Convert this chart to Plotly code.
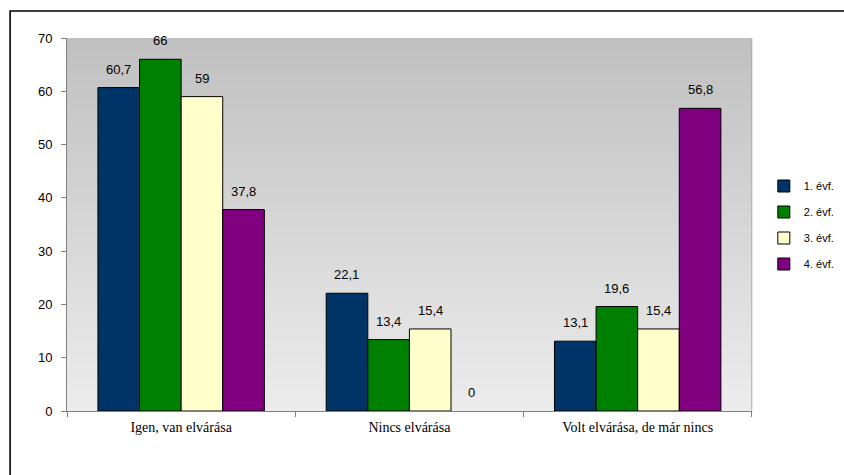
import plotly.graph_objects as go

# Survey responses by study year (percent)
categories = ["Igen, van elvárása", "Nincs elvárása", "Volt elvárása, de már nincs"]
series_names = ["1. évf.", "2. évf.", "3. évf.", "4. évf."]
values = [
    [60.7, 22.1, 13.1],
    [66.0, 13.4, 19.6],
    [59.0, 15.4, 15.4],
    [37.8, 0.0, 56.8],
]
colors = ["#003366", "#008000", "#FFFFCC", "#800080"]

W, H = 844, 475
ML, MR, MT, MB = 67, 91, 38, 64

fig = go.Figure()
for name, vals, col in zip(series_names, values, colors):
    fig.add_trace(go.Bar(
        name=name, x=categories, y=vals,
        marker=dict(color=col,
                    line=dict(color="#000000",
                              width=[1 if v > 0 else 0 for v in vals])),
        legendgroup=name,
    ))


def fmt(v):
    s = ("%.1f" % v).rstrip("0").rstrip(".")
    return s.replace(".", ",")


pw, ph = W - ML - MR, H - MT - MB
bar_px = pw / 3 * (1 - 0.271) / 4

# value labels above each bar
n = len(series_names)
for i, vals in enumerate(values):
    for j, v in enumerate(vals):
        fig.add_annotation(
            x=j, y=v, xref="x", yref="y",
            text=fmt(v), showarrow=False,
            yanchor="bottom", yshift=9,
            xshift=(i - (n - 1) / 2) * bar_px,
            font=dict(family="Liberation Sans, Arial", size=13, color="#000000"),
        )

# vertical gradient behind the plotting area (nested rects, no seams)
shapes = []
bands = 120
top_c, bot_c = (192, 192, 192), (236, 236, 236)
for k in reversed(range(bands)):
    t = (k + 0.5) / bands
    c = tuple(round(bot_c[m] + (top_c[m] - bot_c[m]) * t) for m in range(3))
    shapes.append(dict(
        type="rect", xref="paper", yref="paper",
        x0=0, x1=1, y0=0, y1=(k + 1) / bands,
        fillcolor="rgb(%d,%d,%d)" % c, line=dict(width=0), layer="below",
    ))

# outer chart frame
shapes.append(dict(
    type="rect", xref="paper", yref="paper",
    x0=(10 - ML) / pw, x1=(W + 30 - ML) / pw,
    y0=1 - (H + 30 - MT) / ph, y1=1 + (MT - 11) / ph,
    line=dict(color="#000000", width=1.6), fillcolor="rgba(0,0,0,0)",
))
# right edge of the plot area
shapes.append(dict(
    type="line", xref="paper", yref="paper", x0=1, x1=1, y0=0, y1=1,
    line=dict(color="#a8a8a8", width=1),
))

fig.update_layout(
    width=W, height=H,
    margin=dict(l=ML, r=MR, t=MT, b=MB),
    paper_bgcolor="#FFFFFF",
    plot_bgcolor="rgba(0,0,0,0)",
    barmode="group", bargap=0.271, bargroupgap=0,
    shapes=shapes,
    showlegend=True,
    legend=dict(
        xref="container", yref="container",
        x=0.905, y=(H - 225) / H, xanchor="left", yanchor="middle",
        font=dict(family="Liberation Sans, Arial", size=11, color="#000000"),
        tracegroupgap=7, traceorder="grouped", itemwidth=30,
        bgcolor="rgba(0,0,0,0)",
    ),
    xaxis=dict(
        showgrid=False, showline=True, linecolor="#808080", linewidth=1,
        ticks="outside", tickson="boundaries", ticklen=5, tickcolor="#808080",
        tickfont=dict(family="Liberation Serif, Times New Roman, serif", size=14, color="#000000"),
        ticklabelstandoff=3,
    ),
    yaxis=dict(
        range=[0, 70], dtick=10, showgrid=False, zeroline=False,
        showline=True, linecolor="#808080", linewidth=1,
        ticks="outside", ticklen=5, tickcolor="#808080",
        tickfont=dict(family="Liberation Sans, Arial", size=13, color="#000000"),
        ticklabelstandoff=6,
    ),
)

fig.write_html("out.html")
